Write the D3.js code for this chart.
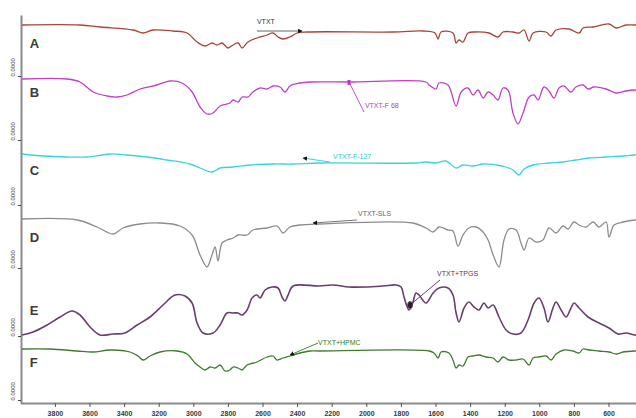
<!DOCTYPE html>
<html>
<head>
<meta charset="utf-8">
<script src="https://cdn.jsdelivr.net/npm/d3@7/dist/d3.min.js"></script>
<style>
  html, body { margin: 0; padding: 0; background: #fff; }
  svg { display: block; }
</style>
</head>
<body>
<svg id="chart" width="636" height="418"></svg>
<script>
// Stacked FTIR spectra: wavenumber (cm-1) vs. offset transmittance (a.u.)
const wavenumberTicks = [3800, 3600, 3400, 3200, 3000, 2800, 2600, 2400, 2200, 2000, 1800, 1600, 1400, 1200, 1000, 800, 600, 400];
const seriesNames = ["A", "B", "C", "D", "E", "F"];
const baselineTicks = [163.5, 131.5, 99, 67.5, 33.5, 1.5];
const baselineTickLabel = "0.0000";
const letterLevels = [177.5, 153, 114, 80.5, 44, 18];

// [wavenumber, offset transmittance]
const spectrumA = [
  [3990,189],[3655,189],[3539,188],[3348,186.5],[3290,185],[3233,186.5],[3117,186],[3036,185],
  [2978,180.5],[2932,178.5],[2892,180],[2863,179],[2834,180],[2799,177.5],[2770,179],[2741,180],
  [2718,177.5],[2684,180.5],[2632,182.5],[2574,184],[2539,185],[2510,183],[2481,182],[2441,183],
  [2400,185],[2343,185.5],[1845,185.5],[1672,186],[1603,185],[1585,182],[1568,185.5],[1499,185],
  [1481,180],[1464,181.5],[1441,180.5],[1412,185],[1366,185.5],[1291,185],[1239,183],[1210,185.5],
  [1152,185.5],[1117,185],[1088,186.5],[1059,181],[1036,185],[961,185.5],[932,183.5],[903,186.5],
  [828,187],[770,185],[747,187.5],[689,188],[597,189.5],[556,187.5],[499,189],[447,189],[400,189]
];
const spectrumB = [
  [3990,162],[3730,162],[3655,160.5],[3579,155.5],[3499,153.5],[3441,153],[3383,154],[3308,157],
  [3210,159],[3134,161],[3065,160],[3007,155.5],[2961,148],[2921,144.5],[2886,145],[2845,148.5],
  [2788,150],[2770,151.5],[2741,150.5],[2718,153],[2684,153],[2655,155.5],[2614,157.5],[2574,157],
  [2539,158.5],[2499,158],[2470,155.5],[2441,158.5],[2383,160],[2325,160.5],[2100,160.5],[1655,160.5],
  [1637,159],[1597,157],[1580,160],[1528,159],[1481,148.5],[1452,155.5],[1412,157.5],[1383,154],
  [1354,156.5],[1325,152.5],[1296,155.5],[1267,154],[1239,151.5],[1210,157.5],[1181,156.5],[1152,145],
  [1123,139.5],[1094,145],[1059,153],[1030,154],[1007,151.5],[973,158],[944,156],[915,152.5],
  [886,157.5],[857,158.5],[817,155.5],[788,158],[747,159],[718,157],[684,158],[614,157],
  [556,155],[499,156],[447,156.5],[400,156.5]
];
const spectrumC = [
  [3990,124.5],[3868,123.5],[3730,123],[3614,123],[3481,124.5],[3383,124],[3267,123],[3152,121.5],
  [3019,119.5],[2961,117.5],[2892,115.5],[2845,117.5],[2770,118],[2672,119],[2539,119.5],[2423,119.5],
  [2267,120],[1713,120],[1655,120.5],[1597,120],[1539,121],[1481,117.5],[1441,119],[1383,118.5],
  [1325,119.5],[1250,119],[1192,118],[1152,116.5],[1117,114],[1088,117],[1036,119],[944,120],
  [863,120.5],[788,121.5],[713,122.5],[614,123],[516,123.5],[447,124],[400,124]
];
const spectrumD = [
  [3990,92],[3672,91.5],[3556,88],[3464,84.5],[3406,87.5],[3308,89.5],[3192,90],[3077,88.5],
  [3007,84],[2961,74],[2921,68],[2892,74],[2874,78],[2857,71],[2834,80],[2805,81.5],
  [2770,82.5],[2741,84],[2689,84],[2655,86.5],[2574,87.5],[2516,88.5],[2481,85],[2441,88],
  [2383,89],[2273,89.5],[1730,90],[1655,87.5],[1614,85.5],[1580,88],[1528,86.5],[1499,86],
  [1470,78.5],[1441,84],[1407,87.5],[1366,88],[1325,85.5],[1296,81.5],[1267,74],[1233,68],
  [1204,81.5],[1175,87],[1134,86.5],[1106,80],[1088,76.5],[1059,82.5],[1019,80.5],[979,81.5],
  [944,87.5],[903,85],[863,88.5],[834,87],[799,90.5],[770,89],[730,88],[689,90.5],
  [655,88],[614,90.5],[597,83],[568,89],[516,90.5],[447,91.5],[400,91.5]
];
const spectrumE = [
  [3990,34],[3926,35.5],[3845,39],[3770,43],[3701,46],[3655,44],[3597,38],[3539,34],
  [3464,34.5],[3395,35],[3325,39],[3250,43],[3175,49],[3106,54],[3048,53.5],[3007,50],
  [2978,40],[2944,35],[2886,35],[2845,39],[2805,45],[2770,45],[2741,45],[2718,44],
  [2689,46.5],[2660,52.5],[2632,54],[2614,52.5],[2585,56.5],[2545,58],[2510,57.5],[2487,53],
  [2470,51],[2452,54],[2423,58.5],[2273,58.5],[2192,59],[2100,58],[2002,58],[1903,58.5],
  [1828,59],[1799,58],[1782,53],[1753,46.5],[1730,50.5],[1713,55],[1695,54],[1655,50],
  [1614,55],[1580,57.5],[1528,57.5],[1499,54],[1481,45],[1464,40.5],[1435,47.5],[1407,50.5],
  [1377,48],[1349,46.5],[1320,50],[1296,47.5],[1267,49],[1233,43],[1192,36.5],[1152,34.5],
  [1106,35],[1065,41.5],[1030,50],[1002,52.5],[973,47.5],[950,40.5],[921,47.5],[903,50.5],
  [874,46.5],[845,43],[817,47.5],[799,50],[770,47.5],[718,43],[655,40],[597,37.5],
  [545,34.5],[499,35],[447,34],[400,34]
];
const spectrumF = [
  [3990,27],[3828,27],[3672,26],[3579,25.5],[3481,26.5],[3366,25.5],[3319,23.5],[3290,21.5],
  [3250,23.5],[3192,25.5],[3094,26],[3036,24.5],[2990,20],[2961,18],[2932,16.5],[2903,18],
  [2874,17.5],[2845,19],[2816,16],[2788,16.5],[2770,18],[2741,17.5],[2718,16.5],[2689,19],
  [2632,20.5],[2574,23],[2539,23.5],[2516,21.5],[2481,22.5],[2441,23.5],[2383,25],[2325,26],
  [2273,26],[1637,26],[1609,25],[1585,22.5],[1568,25.5],[1522,25],[1499,21.5],[1481,17.5],
  [1464,19],[1441,18.5],[1412,23],[1383,23.5],[1349,24],[1308,23],[1267,22.5],[1239,20.5],
  [1210,23],[1175,21.5],[1134,21.5],[1094,22],[1059,19],[1036,22.5],[1002,23],[961,23.5],
  [932,21.5],[903,24.5],[857,26.5],[805,26],[770,25],[747,27],[713,26.5],[655,26],
  [597,25.5],[556,24.5],[516,25.5],[447,26],[400,26]
];
const spectra = [spectrumA, spectrumB, spectrumC, spectrumD, spectrumE, spectrumF];

// Callout labels: text, anchor point, text point (wavenumber, value), style of pointer
const calloutTexts = ["VTXT", "VTXT-F 68", "VTXT-F-127", "VTXT-SLS", "VTXT+TPGS", "VTXT+HPMC"];
const calloutFrom = [[2632,186],[2100,160.5],[2210,120.5],[2054,91.5],[1574,61.5],[2279,30]];
const calloutTo   = [[2371,186],[2013,145.5],[2366,122.5],[2308,90],[1747,49],[2441,24]];
const calloutTextAt = [[2632,189.5],[2008,147.5],[2192,122],[2048,93.5],[1591,63.5],[2279,29]];

// Styles
const lineColors = ["#a8453a", "#c23fc6", "#38d3dc", "#8c8c8c", "#6a3d6c", "#3e7b2f"];
const calloutColors = ["#333333", "#b53cb8", "#2cc8d2", "#666666", "#5a2f5e", "#2f7a27"];
const calloutKinds = ["arrow", "dot", "arrow", "arrow", "ring", "arrow"];

const svg = d3.select("#chart");
const W = 636, H = 418;

const x = d3.scaleLinear().domain([4000, 400]).range([20.3, 643.1]);
const y = d3.scaleLinear().domain([0, 194]).range([403, 15]);

const defs = svg.append("defs");
defs.append("clipPath").attr("id", "plotClip")
  .append("rect").attr("x", 21).attr("y", 0).attr("width", W - 21).attr("height", 403);
defs.append("marker").attr("id", "arrowHead")
  .attr("viewBox", "0 0 10 10").attr("refX", 9).attr("refY", 5)
  .attr("markerWidth", 5).attr("markerHeight", 5).attr("orient", "auto")
  .append("path").attr("d", "M0,0 L10,5 L0,10 Z").attr("fill", "#111");

// Axes
const xAxis = d3.axisBottom(x).tickValues(wavenumberTicks).tickSize(4).tickSizeOuter(0).tickFormat(d3.format("d"));
const gx = svg.append("g").attr("transform", `translate(0,${y(0) })`).call(xAxis);
gx.select(".domain").attr("stroke", "#8a8a8a").attr("stroke-width", 2);
gx.selectAll(".tick line").attr("stroke", "#555").attr("stroke-width", 1);
gx.selectAll(".tick text")
  .attr("y", 8).attr("dy", "0.71em")
  .attr("fill", "#333a44")
  .style("font-family", "'Liberation Sans Narrow', 'Liberation Sans', sans-serif")
  .style("font-size", "7px").style("font-weight", "bold");

const yAxis = d3.axisLeft(y).tickValues(baselineTicks).tickSize(3).tickSizeOuter(0).tickFormat(() => baselineTickLabel);
const gy = svg.append("g").attr("transform", `translate(${x(4000) + 0.7},0)`).call(yAxis);
gy.select(".domain").attr("stroke", "#8a8a8a").attr("stroke-width", 2);
gy.selectAll(".tick line").attr("stroke", "#444");
gy.selectAll(".tick text")
  .attr("x", 0).attr("dy", 0)
  .attr("text-anchor", "start")
  .attr("transform", "translate(-6,0) rotate(-90)")
  .attr("fill", "#444")
  .style("font-family", "'Liberation Sans Narrow', 'Liberation Sans', sans-serif")
  .style("font-size", "6px");

// Spectra
const line = d3.line()
  .x(d => x(d[0]))
  .y(d => y(d[1]))
  .curve(d3.curveCatmullRom.alpha(0.5));

const plot = svg.append("g").attr("clip-path", "url(#plotClip)");
plot.selectAll("path.spectrum")
  .data(spectra)
  .join("path")
  .attr("class", "spectrum")
  .attr("d", line)
  .attr("fill", "none")
  .attr("stroke", (d, i) => lineColors[i])
  .attr("stroke-width", (d, i) => i === 4 ? 1.6 : 1.3)
  .attr("stroke-linejoin", "round");

// Series letters
svg.selectAll("text.letter")
  .data(seriesNames)
  .join("text")
  .attr("class", "letter")
  .attr("x", x(3945))
  .attr("y", (d, i) => y(letterLevels[i]))
  .attr("fill", "#3a3a3a")
  .style("font-family", "'Liberation Sans', Arial, sans-serif")
  .style("font-weight", "bold")
  .style("font-size", "13px")
  .text(d => d);

// Callouts
const callouts = svg.append("g");
calloutTexts.forEach((t, i) => {
  const [f, to, at] = [calloutFrom[i], calloutTo[i], calloutTextAt[i]];
  const g = callouts.append("g");
  const ln = g.append("line")
    .attr("x1", x(f[0])).attr("y1", y(f[1]))
    .attr("x2", x(to[0])).attr("y2", y(to[1]))
    .attr("stroke", calloutKinds[i] === "arrow" ? (i === 0 ? "#555" : calloutColors[i]) : calloutColors[i])
    .attr("stroke-width", 0.9);
  if (calloutKinds[i] === "arrow") ln.attr("marker-end", "url(#arrowHead)");
  if (calloutKinds[i] === "dot") {
    g.append("rect").attr("x", x(f[0]) - 1.5).attr("y", y(f[1]) - 2)
      .attr("width", 3).attr("height", 5).attr("fill", calloutColors[i]);
  }
  if (calloutKinds[i] === "ring") {
    g.append("ellipse").attr("cx", x(to[0])).attr("cy", y(to[1]))
      .attr("rx", 2.5).attr("ry", 3.5)
      .attr("fill", "#222").attr("stroke", "#6a3d6c").attr("stroke-width", 0.8);
  }
  g.append("text")
    .attr("x", x(at[0])).attr("y", y(at[1]))
    .attr("fill", calloutColors[i])
    .style("font-family", "'Liberation Sans Narrow', 'Liberation Sans', sans-serif")
    .style("font-size", "7px")
    .text(t);
});
</script>
</body>
</html>
